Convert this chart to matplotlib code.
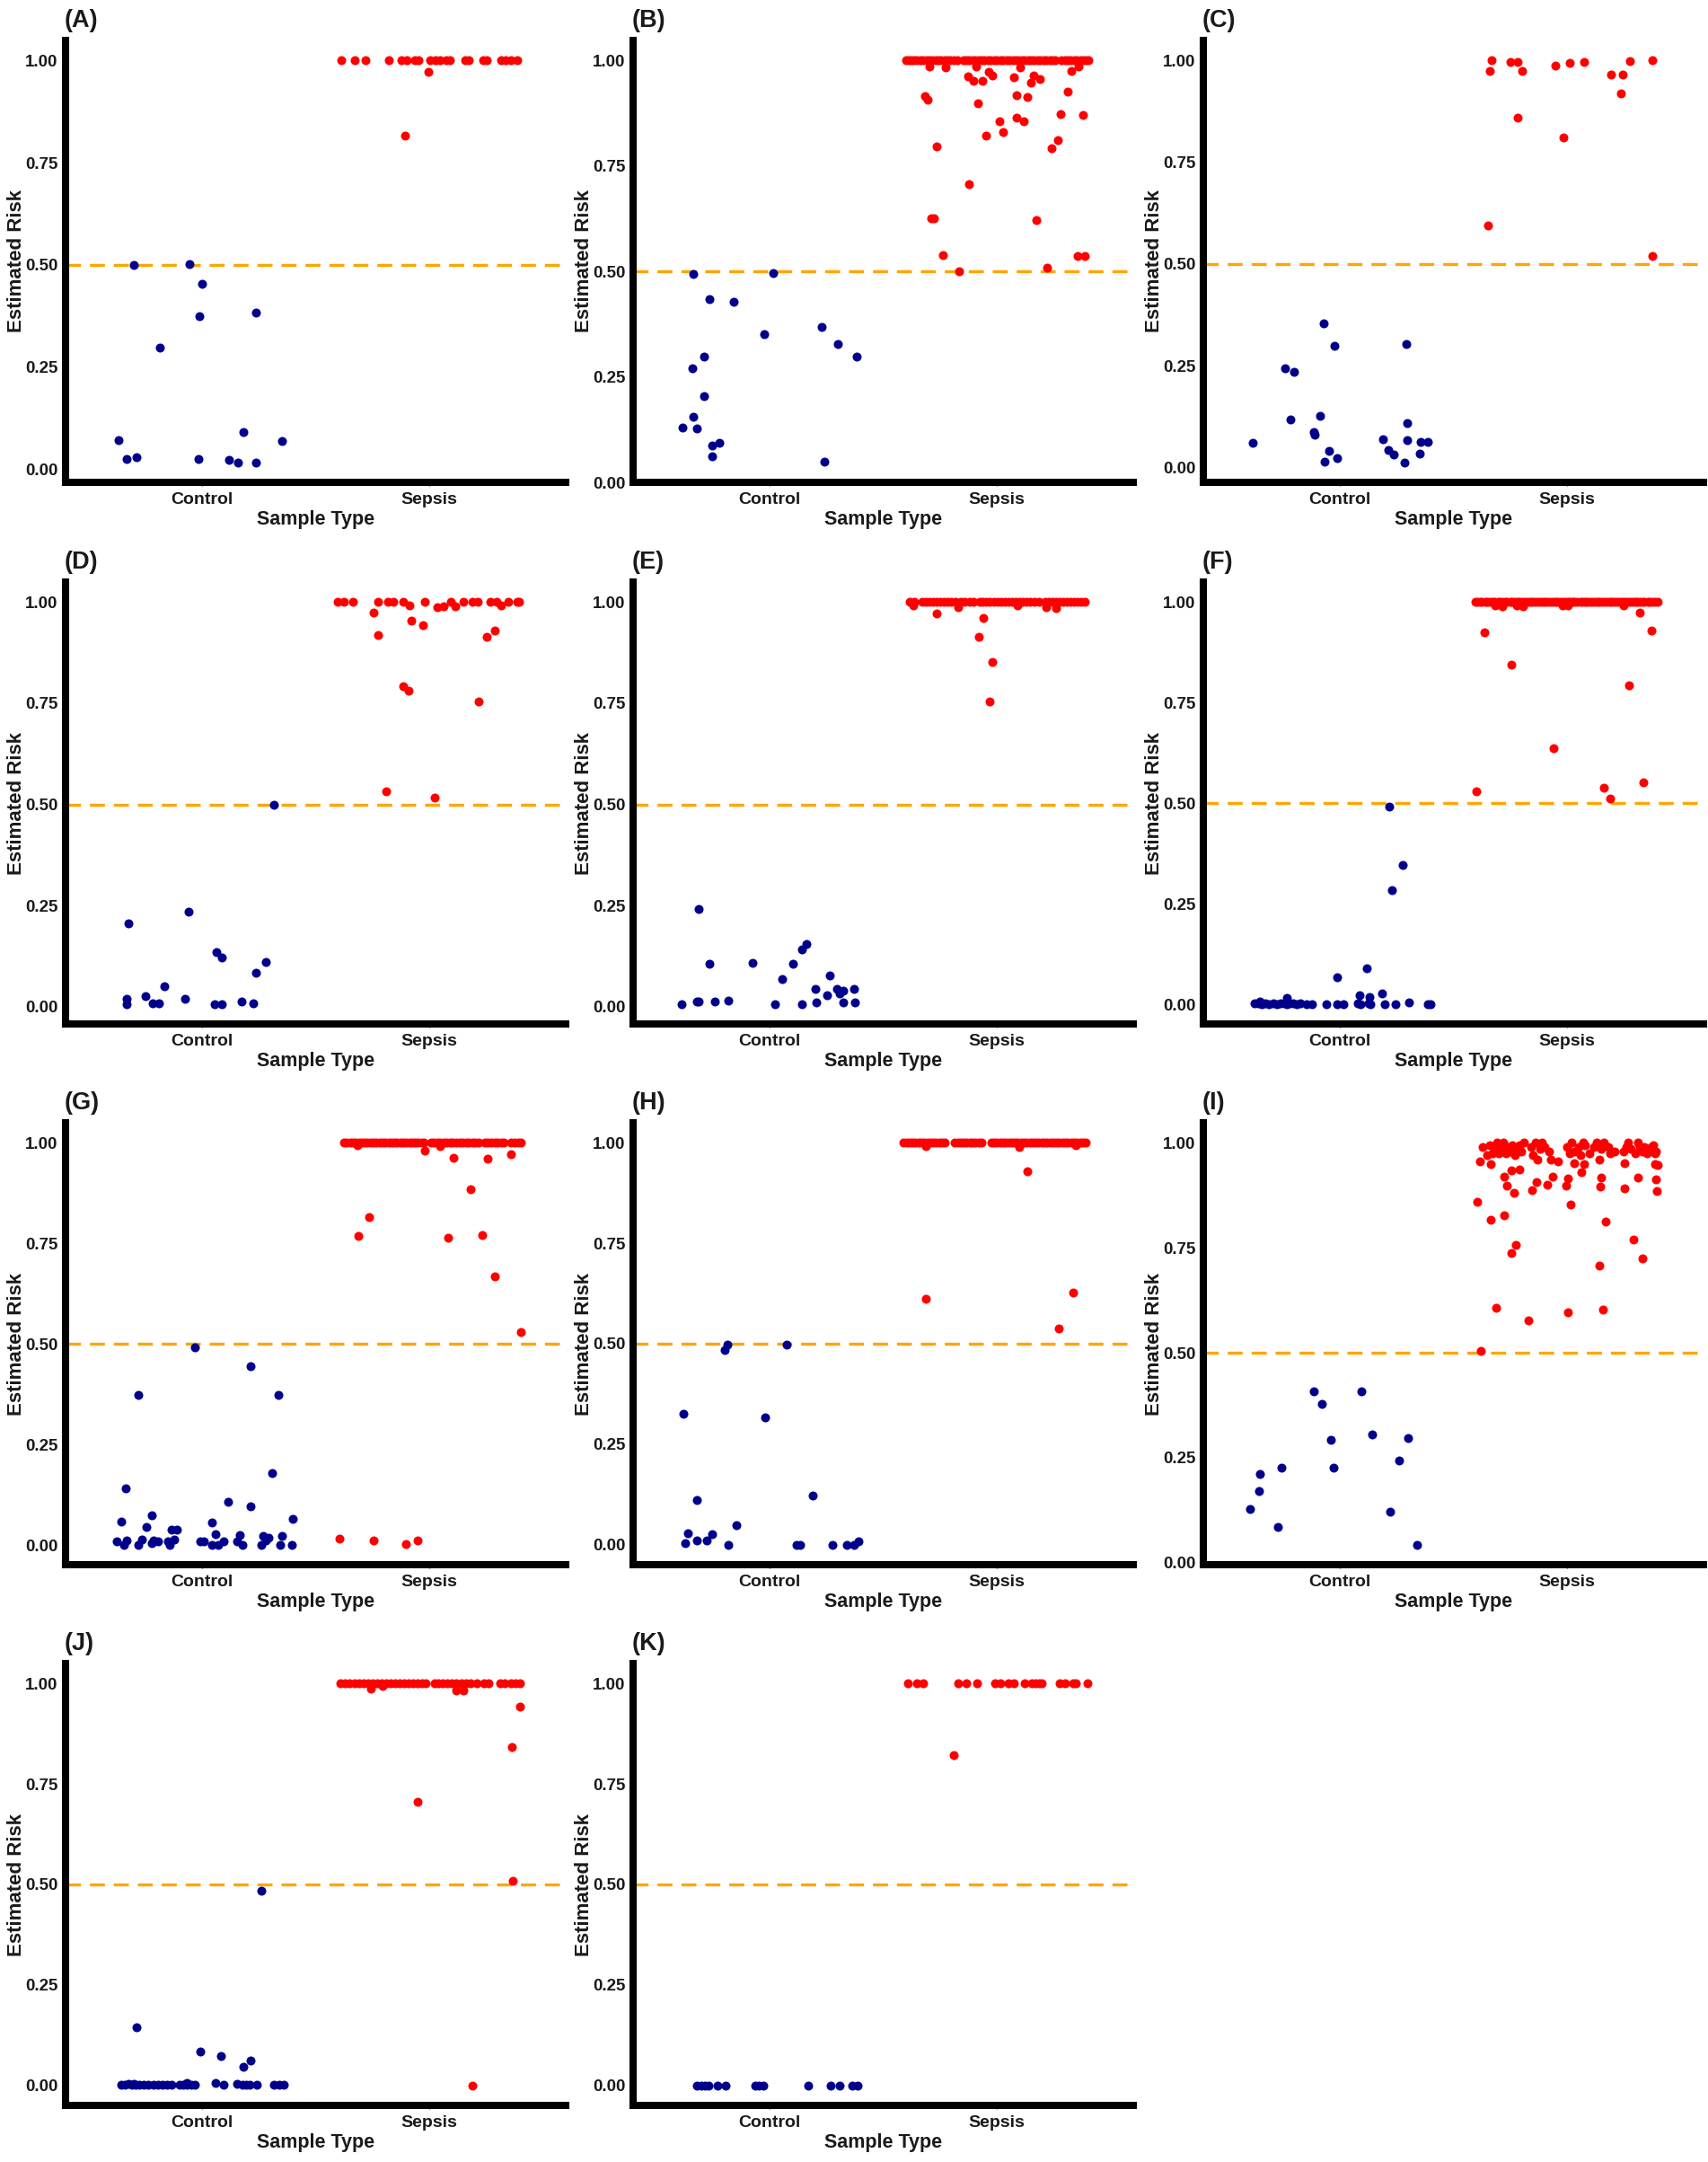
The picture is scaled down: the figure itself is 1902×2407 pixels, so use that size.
import numpy as np
import matplotlib
matplotlib.use("Agg")
import matplotlib.pyplot as plt

# ---------------- data: (jitter offset from category, estimated risk) ----------------
categories = ["Control", "Sepsis"]
yticks = [0.00, 0.25, 0.50, 0.75, 1.00]
threshold = 0.5

A_control = [(-0.366,0.072),(-0.330,0.025),(-0.289,0.030),(-0.298,0.500),(-0.187,0.298),(-0.055,0.503),
             (0.002,0.454),(-0.013,0.375),(-0.016,0.025),(0.117,0.023),(0.158,0.017),(0.184,0.090),
             (0.236,0.017),(0.239,0.383),(0.350,0.069)]
A_sepsis = [(-0.005,0.972),(-0.106,0.816)]
A_sepsis_top = [-0.387,-0.327,-0.281,-0.179,-0.122,-0.099,-0.062,-0.049,0.003,0.028,0.049,0.073,0.089,
                0.158,0.174,0.236,0.252,0.315,0.337,0.361,0.385]

B_control = [(-0.383,0.129),(-0.339,0.271),(-0.334,0.155),(-0.334,0.495),(-0.318,0.127),(-0.286,0.298),
             (-0.286,0.205),(-0.266,0.435),(-0.253,0.088),(-0.253,0.061),(-0.221,0.094),(-0.159,0.428),
             (-0.024,0.352),(0.015,0.497),(0.229,0.368),(0.242,0.049),(0.302,0.327),(0.383,0.299)]
B_sepsis = [(-0.315,0.916),(-0.304,0.908),(-0.266,0.796),(-0.287,0.627),(-0.276,0.627),(-0.239,0.538),
            (-0.166,0.501),(-0.122,0.706),(-0.125,0.962),(-0.104,0.951),(-0.084,0.898),(-0.063,0.951),
            (-0.047,0.822),(-0.036,0.973),(-0.019,0.965),(0.010,0.856),(0.029,0.830),(0.075,0.961),
            (0.086,0.918),(0.086,0.865),(0.119,0.856),(0.135,0.913),(0.151,0.947),(0.162,0.965),
            (0.172,0.622),(0.188,0.957),(0.219,0.509),(0.240,0.793),(0.269,0.811),(0.279,0.872),
            (0.313,0.926),(0.326,0.975),(0.354,0.536),(0.378,0.871),(0.386,0.536),(0.359,0.985),
            (-0.295,0.985),(-0.226,0.983),(-0.093,0.985),(0.102,0.983)]
B_sepsis_top = [-0.401,-0.388,-0.376,-0.362,-0.350,-0.337,-0.323,-0.310,-0.297,-0.284,-0.270,-0.258,
                -0.244,-0.231,-0.218,-0.204,-0.190,-0.176,-0.148,-0.135,-0.121,-0.108,-0.095,-0.081,
                -0.068,-0.055,-0.041,-0.028,-0.014,0.001,0.015,0.028,0.042,0.055,0.069,0.082,0.096,
                0.109,0.122,0.136,0.150,0.163,0.177,0.190,0.204,0.217,0.231,0.244,0.258,0.285,0.298,
                0.312,0.325,0.339,0.352,0.366,0.379,0.392,0.401]

C_control = [(-0.382,0.061),(-0.240,0.244),(-0.201,0.235),(-0.216,0.119),(-0.113,0.087),(-0.110,0.081),
             (-0.088,0.126),(-0.071,0.355),(-0.065,0.014),(-0.047,0.041),(-0.024,0.298),(-0.010,0.023),
             (0.190,0.070),(0.214,0.044),(0.237,0.033),(0.284,0.013),(0.293,0.304),(0.295,0.109),
             (0.298,0.068),(0.353,0.035),(0.357,0.062),(0.389,0.062)]
C_sepsis = [(-0.348,0.594),(-0.340,0.974),(-0.332,1.000),(-0.248,0.997),(-0.216,0.996),(-0.219,0.859),
            (-0.196,0.975),(-0.050,0.988),(-0.018,0.812),(0.011,0.995),(0.076,0.997),(0.193,0.966),
            (0.246,0.966),(0.238,0.919),(0.277,0.999),(0.373,1.000),(0.376,0.520)]
C_sepsis_top = []

D_control = [(-0.333,0.019),(-0.333,0.007),(-0.324,0.207),(-0.247,0.026),(-0.215,0.009),(-0.190,0.009),
             (-0.167,0.051),(-0.076,0.019),(-0.057,0.234),(0.057,0.007),(0.062,0.134),(0.086,0.007),
             (0.089,0.122),(0.176,0.013),(0.224,0.009),(0.236,0.085),(0.281,0.111),(0.317,0.498)]
D_sepsis = [(-0.089,0.991),(0.037,0.987),(0.062,0.989),(0.114,0.989),(0.317,0.991),
            (-0.244,0.974),(-0.224,0.919),(-0.190,0.532),(-0.114,0.792),(-0.091,0.780),(-0.081,0.955),
            (-0.028,0.944),(0.024,0.517),(0.216,0.755),(0.252,0.914),(0.289,0.929)]
D_sepsis_top = [-0.403,-0.374,-0.337,-0.224,-0.182,-0.159,-0.114,-0.020,0.094,0.151,0.190,0.211,
                0.268,0.296,0.346,0.387,0.395]

E_control = [(-0.388,0.007),(-0.321,0.013),(-0.310,0.013),(-0.310,0.241),(-0.266,0.107),(-0.240,0.013),
             (-0.180,0.015),(-0.075,0.108),(0.023,0.007),(0.057,0.068),(0.104,0.107),(0.141,0.142),
             (0.144,0.007),(0.162,0.156),(0.200,0.043),(0.206,0.010),(0.253,0.028),(0.266,0.077),
             (0.295,0.043),(0.310,0.032),(0.323,0.040),(0.323,0.010),(0.372,0.043),(0.375,0.010)]
E_sepsis = [(-0.266,0.971),(-0.060,0.960),(-0.081,0.915),(-0.019,0.851),(-0.031,0.754),(-0.369,0.992),
            (-0.169,0.988),(0.091,0.992),(0.216,0.988),(0.261,0.985)]
E_sepsis_top = [-0.385,-0.362,-0.328,-0.312,-0.296,-0.280,-0.264,-0.248,-0.232,-0.216,-0.200,-0.184,
                -0.160,-0.144,-0.118,-0.102,-0.075,-0.062,-0.046,-0.030,-0.014,0.002,0.018,0.034,
                0.050,0.066,0.082,0.098,0.114,0.130,0.146,0.165,0.185,0.212,0.228,0.244,0.260,0.276,
                0.292,0.308,0.324,0.340,0.356,0.372,0.386]

F_control = [(-0.374,0.003),(-0.358,0.004),(-0.342,0.002),(-0.326,0.003),(-0.310,0.002),(-0.293,0.003),
             (-0.277,0.002),(-0.261,0.004),(-0.245,0.003),(-0.233,0.002),(-0.220,0.003),(-0.204,0.004),
             (-0.188,0.002),(-0.172,0.003),(-0.147,0.002),(-0.123,0.002),(-0.058,0.002),(-0.010,0.002),
             (0.018,0.002),(0.079,0.003),(0.091,0.002),(0.128,0.004),(0.133,0.002),(0.199,0.002),
             (0.246,0.002),(0.305,0.005),(0.389,0.002),(0.399,0.002),
             (-0.010,0.068),(0.117,0.091),(0.088,0.023),(0.131,0.019),(0.185,0.027),(-0.233,0.016),
             (-0.350,0.008),(0.217,0.493),(0.230,0.284),(0.277,0.348)]
F_sepsis = [(-0.399,0.530),(-0.365,0.925),(-0.246,0.845),(-0.060,0.637),(0.160,0.540),(0.190,0.513),
            (0.271,0.793),(0.319,0.973),(0.335,0.552),(0.370,0.930),(-0.315,0.992),(-0.285,0.990),
            (-0.220,0.992),(-0.195,0.990),(-0.020,0.992),(0.005,0.992),(0.250,0.993)]
F_sepsis_top = [-0.405,-0.396,-0.384,-0.374,-0.361,-0.352,-0.340,-0.328,-0.319,-0.306,-0.297,-0.285,
                -0.273,-0.264,-0.251,-0.242,-0.230,-0.218,-0.209,-0.196,-0.187,-0.175,-0.163,-0.154,
                -0.141,-0.132,-0.120,-0.108,-0.099,-0.086,-0.077,-0.065,-0.053,-0.044,-0.031,-0.022,
                -0.010,0.002,0.011,0.024,0.033,0.045,0.057,0.066,0.079,0.088,0.100,0.112,0.121,0.134,
                0.143,0.155,0.167,0.176,0.189,0.198,0.210,0.222,0.231,0.244,0.253,0.265,0.277,0.286,
                0.299,0.308,0.320,0.332,0.341,0.354,0.363,0.375,0.387,0.399]

G_control = [(-0.354,0.059),(-0.336,0.141),(-0.373,0.010),(-0.344,0.002),(-0.333,0.013),(-0.281,0.374),
             (-0.279,0.002),(-0.263,0.014),(-0.244,0.046),(-0.219,0.075),(-0.219,0.006),(-0.211,0.013),
             (-0.195,0.010),(-0.151,0.010),(-0.143,0.002),(-0.133,0.040),(-0.122,0.015),(-0.109,0.040),
             (-0.032,0.492),(-0.008,0.010),(0.008,0.010),(0.045,0.057),(0.045,0.002),(0.060,0.027),
             (0.073,0.002),(0.097,0.010),(0.114,0.109),(0.156,0.010),(0.167,0.026),(0.179,0.002),
             (0.214,0.446),(0.214,0.098),(0.260,0.002),(0.268,0.023),(0.279,0.012),(0.292,0.019),
             (0.308,0.179),(0.338,0.374),(0.344,0.002),(0.352,0.023),(0.394,0.002),(0.401,0.066)]
G_sepsis = [(-0.313,0.768),(-0.265,0.816),(-0.021,0.980),(0.047,0.991),(0.107,0.963),(0.083,0.764),
            (0.182,0.884),(0.234,0.772),(0.255,0.961),(0.287,0.668),(0.360,0.971),(0.403,0.530),
            (-0.394,0.017),(-0.245,0.013),(-0.104,0.003),(-0.050,0.013),(-0.315,0.994)]
G_sepsis_top = [-0.375,-0.362,-0.349,-0.336,-0.323,-0.310,-0.297,-0.284,-0.271,-0.258,-0.245,-0.232,
                -0.219,-0.206,-0.193,-0.180,-0.167,-0.154,-0.141,-0.128,-0.115,-0.102,-0.089,-0.076,
                -0.063,-0.050,-0.037,-0.024,0.006,0.020,0.034,0.048,0.062,0.076,0.090,0.104,0.118,
                0.132,0.146,0.160,0.174,0.188,0.202,0.216,0.244,0.258,0.272,0.286,0.300,0.314,0.328,
                0.360,0.374,0.390,0.404]

H_control = [(-0.378,0.326),(-0.370,0.004),(-0.361,0.028),(-0.318,0.112),(-0.318,0.010),(-0.277,0.010),
             (-0.254,0.027),(-0.196,0.485),(-0.185,0.498),(-0.183,0.000),(-0.147,0.048),(-0.021,0.316),
             (0.076,0.498),(0.120,0.000),(0.133,0.000),(0.190,0.123),(0.277,0.000),(0.342,0.000),
             (0.373,0.000),(0.392,0.009)]
H_sepsis = [(0.135,0.930),(-0.313,0.612),(0.271,0.538),(0.337,0.627),(-0.313,0.991),(0.097,0.990),
            (0.348,0.994)]
H_sepsis_top = [-0.410,-0.397,-0.384,-0.371,-0.358,-0.345,-0.332,-0.319,-0.306,-0.293,-0.280,-0.267,
                -0.254,-0.241,-0.228,-0.185,-0.172,-0.159,-0.146,-0.133,-0.120,-0.107,-0.094,-0.081,
                -0.068,-0.025,-0.012,0.001,0.014,0.027,0.040,0.053,0.066,0.079,0.092,0.105,0.118,
                0.131,0.144,0.157,0.170,0.183,0.196,0.209,0.222,0.235,0.248,0.261,0.274,0.287,0.300,
                0.313,0.326,0.339,0.352,0.365,0.378,0.389]

I_control = [(-0.395,0.128),(-0.354,0.171),(-0.351,0.211),(-0.273,0.084),(-0.257,0.226),(-0.115,0.409),
             (-0.078,0.379),(-0.041,0.293),(-0.028,0.226),(0.094,0.409),(0.143,0.306),(0.221,0.121),
             (0.262,0.244),(0.301,0.296),(0.341,0.043)]
I_sepsis = [(-0.395,0.860),(-0.384,0.955),(-0.338,0.816),(-0.335,0.949),(-0.314,0.607),(-0.275,0.828),
            (-0.276,0.919),(-0.265,0.899),(-0.246,0.737),(-0.224,0.756),(-0.246,0.934),(-0.233,0.882),
            (-0.208,0.936),(-0.171,0.577),(-0.154,0.887),(-0.135,0.907),(-0.089,0.901),(-0.065,0.920),
            (0.003,0.597),(0.015,0.853),(-0.005,0.899),(0.003,0.916),(0.031,0.952),(0.063,0.930),
            (0.073,0.950),(0.140,0.707),(0.158,0.602),(0.171,0.812),(0.145,0.895),(0.150,0.917),
            (0.252,0.891),(0.291,0.770),(0.312,0.917),(0.333,0.724),(0.252,0.952),(0.389,0.913),
            (0.393,0.886),(0.385,0.950),(0.398,0.948),(-0.379,0.504),
            (-0.370,0.990),(-0.350,0.970),(-0.340,0.995),(-0.330,0.975),(-0.320,0.985),(-0.310,1.000),
            (-0.300,0.975),(-0.290,0.990),(-0.280,1.000),(-0.270,0.975),(-0.260,0.990),(-0.250,0.980),
            (-0.240,0.995),(-0.230,0.970),(-0.220,0.985),(-0.210,0.995),(-0.200,0.980),(-0.190,1.000),
            (-0.160,0.990),(-0.150,0.970),(-0.140,1.000),(-0.130,0.960),(-0.120,0.985),(-0.110,1.000),
            (-0.100,0.990),(-0.080,0.980),(-0.070,0.960),(-0.040,0.955),(0.000,0.990),(0.010,0.975),
            (0.020,1.000),(0.030,0.980),(0.050,0.990),(0.060,0.970),(0.070,1.000),(0.080,0.995),
            (0.100,0.975),(0.120,0.990),(0.130,1.000),(0.140,0.960),(0.150,0.985),(0.160,1.000),
            (0.180,0.990),(0.190,0.975),(0.210,0.980),(0.250,0.980),(0.260,0.990),(0.270,1.000),
            (0.280,0.985),(0.300,0.975),(0.310,1.000),(0.320,0.990),(0.330,0.980),(0.340,0.990),
            (0.350,0.975),(0.360,0.985),(0.370,0.990),(0.380,0.995),(0.390,0.980),(0.385,0.975)]
I_sepsis_top = []

J_control = [(-0.357,0.002),(-0.340,0.002),(-0.324,0.003),(-0.308,0.002),(-0.292,0.002),(-0.276,0.002),
             (-0.256,0.002),(-0.235,0.002),(-0.214,0.002),(-0.194,0.002),(-0.175,0.002),(-0.154,0.002),
             (-0.133,0.002),(-0.100,0.002),(-0.081,0.002),(-0.065,0.002),(-0.049,0.002),(-0.032,0.002),
             (0.097,0.002),(0.154,0.003),(0.178,0.002),(0.194,0.002),(0.211,0.002),(0.240,0.002),
             (0.316,0.002),(0.340,0.002),(0.360,0.002),
             (0.060,0.006),(-0.287,0.145),(-0.008,0.084),(0.083,0.072),(0.183,0.046),(0.214,0.061),
             (0.263,0.485),(-0.300,0.004),(-0.065,0.007)]
J_sepsis = [(-0.259,0.987),(0.118,0.982),(0.151,0.984),(0.399,0.943),(0.363,0.843),(-0.052,0.706),
            (0.366,0.510),(0.191,0.000),(-0.206,0.993)]
J_sepsis_top = [-0.390,-0.370,-0.350,-0.330,-0.310,-0.290,-0.270,-0.250,-0.230,-0.210,-0.190,-0.170,
                -0.150,-0.130,-0.110,-0.090,-0.070,-0.050,-0.030,-0.015,0.025,0.040,0.060,0.080,0.100,
                0.120,0.140,0.160,0.180,0.210,0.240,0.260,0.310,0.330,0.360,0.380,0.400]

K_control = [(-0.318,0.0),(-0.301,0.0),(-0.285,0.0),(-0.269,0.0),(-0.229,0.0),(-0.193,0.0),(-0.063,0.0),
             (-0.047,0.0),(-0.029,0.0),(0.169,0.0),(0.269,0.0),(0.310,0.0),(0.363,0.0),(0.387,0.0)]
K_sepsis = [(-0.191,0.821)]
K_sepsis_top = [-0.391,-0.353,-0.326,-0.170,-0.134,-0.086,-0.010,0.015,0.052,0.076,0.122,0.152,0.169,
                0.185,0.198,0.276,0.298,0.335,0.347,0.397]

panels = [
    ("(A)", A_control, A_sepsis, A_sepsis_top),
    ("(B)", B_control, B_sepsis, B_sepsis_top),
    ("(C)", C_control, C_sepsis, C_sepsis_top),
    ("(D)", D_control, D_sepsis, D_sepsis_top),
    ("(E)", E_control, E_sepsis, E_sepsis_top),
    ("(F)", F_control, F_sepsis, F_sepsis_top),
    ("(G)", G_control, G_sepsis, G_sepsis_top),
    ("(H)", H_control, H_sepsis, H_sepsis_top),
    ("(I)", I_control, I_sepsis, I_sepsis_top),
    ("(J)", J_control, J_sepsis, J_sepsis_top),
    ("(K)", K_control, K_sepsis, K_sepsis_top),
]

# ---------------- layout / style ----------------
W, H = 1902, 2407
plt.rcParams['font.family'] = ['Liberation Sans Narrow', 'Liberation Sans', 'DejaVu Sans']
plt.rcParams['font.weight'] = 'bold'

fig = plt.figure(figsize=(W / 100, H / 100), dpi=100)
col_left = [73, 705, 1340]
row_top = [45, 648, 1250, 1852]
aw, ah = 557, 492

CTRL_COLOR = '#00008B'
SEPS_COLOR = '#FF0000'
MS = 52

for i, (lab, ctrl, seps, top) in enumerate(panels):
    r, c = divmod(i, 3)
    L, T = col_left[c], row_top[r]
    ax = fig.add_axes([L / W, 1 - (T + ah) / H, aw / W, ah / H])

    ctrl = np.array(ctrl, dtype=float)
    seps = np.array(seps, dtype=float).reshape(-1, 2)
    top = np.array(top, dtype=float)

    ax.axhline(threshold, color='#FFA500', lw=2.4, dashes=(5, 3), zorder=1)
    ax.scatter(1 + ctrl[:, 0], ctrl[:, 1], s=MS, color=CTRL_COLOR, linewidths=0, zorder=3)
    sx = np.concatenate([2 + top, 2 + seps[:, 0]])
    sy = np.concatenate([np.ones_like(top), seps[:, 1]])
    ax.scatter(sx, sy, s=MS, color=SEPS_COLOR, linewidths=0, zorder=3)

    ally = np.concatenate([ctrl[:, 1], sy])
    lo, hi = ally.min(), ally.max()
    pad = 0.05 * (hi - lo)
    ax.set_ylim(lo - pad, hi + pad)
    ax.set_xlim(0.4, 2.6)

    ax.set_xticks([1, 2])
    ax.set_xticklabels(categories)
    ax.set_yticks(yticks)
    ax.set_yticklabels([f"{v:.2f}" for v in yticks])
    ax.tick_params(axis='both', length=3, width=1, color='#333333', labelcolor='#1a1a1a')
    ax.tick_params(axis='y', labelsize=13.5, pad=3)
    ax.tick_params(axis='x', labelsize=14, pad=5)

    for s in ['top', 'right']:
        ax.spines[s].set_visible(False)
    for s in ['left', 'bottom']:
        ax.spines[s].set_linewidth(5.8)
        ax.spines[s].set_color('black')
        ax.spines[s].set_capstyle('projecting')

    ax.set_xlabel("Sample Type", fontsize=15.5, fontweight='bold', labelpad=2, color='#1a1a1a')
    ax.set_ylabel("Estimated Risk", fontsize=16, fontweight='bold', color='#1a1a1a',
                  family=['Liberation Sans', 'DejaVu Sans'])
    ax.yaxis.set_label_coords(-44 / aw, 0.5)
    ax.patch.set_alpha(0)

    fig.text((L - 1) / W, 1 - (T - 35) / H, lab, fontsize=19.5, fontweight='bold',
             ha='left', va='top', color='#1a1a1a')

fig.savefig("out.png", dpi=100, facecolor='white')
